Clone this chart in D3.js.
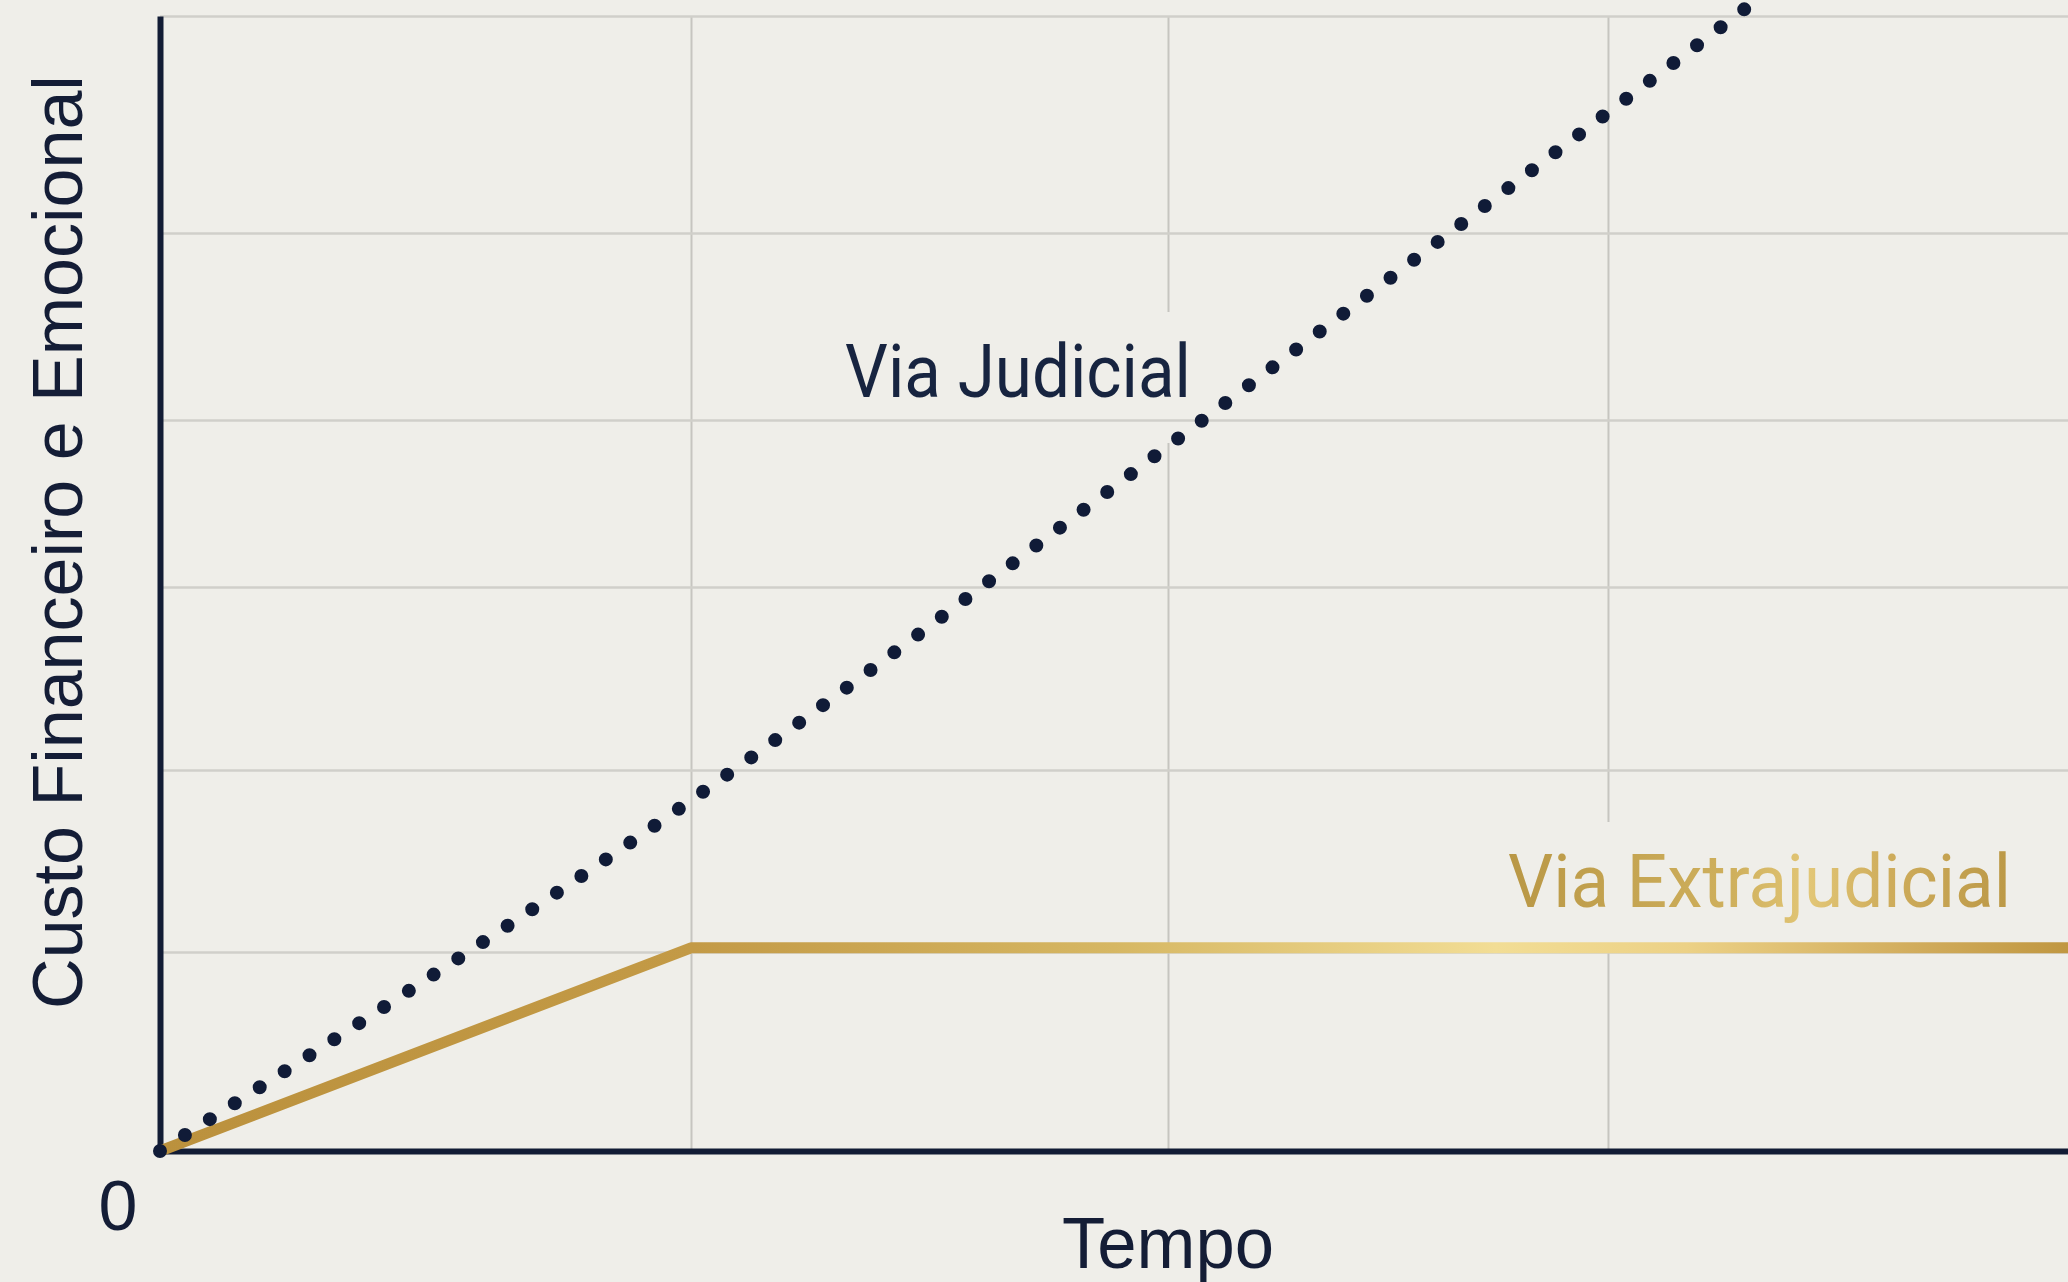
<!DOCTYPE html>
<html lang="pt">
<head>
<meta charset="utf-8">
<title>Custo: Via Judicial x Via Extrajudicial</title>
<script src="https://cdn.jsdelivr.net/npm/d3@7"></script>
<style>
  html, body { margin: 0; padding: 0; background: #efeee9; overflow: hidden; }
  #chart { display: block; }
</style>
</head>
<body>
<div id="chart"></div>
<script>
// Grid positions (time / cost in 0..100 units)
const xTicks = [27.83, 52.83, 75.89];
const yTicks = [17.53, 33.57, 49.69, 64.41, 80.88, 100];

// Via Judicial (dotted, keeps rising)
const judTime = [0, 27.83, 52.83, 75.89, 82.65, 87];
const judCost = [0, 30.9, 62.1, 91.5, 100.1, 105.7];

// Via Extrajudicial (gold, rises then flat)
const extTime = [0, 27.83, 100];
const extCost = [0, 17.9, 17.9];

// Labels
const xLabel = "Tempo";
const yLabel = "Custo Financeiro e Emocional";
const zeroLabel = "0";
const judLabel = "Via Judicial";
const extLabel = "Via Extrajudicial";

// Colours
const BG = "#efeee9";
const NAVY = "#121c35";
const GRID = "#d0cfca";

function drawChart() {
  const WIDTH = 2068;
  const HEIGHT = 1282;
  const LEFT = 160;
  const RIGHT = 2068;
  const TOP = 16;
  const BOTTOM = 1151;

  const svg = d3
    .select("#chart")
    .append("svg")
    .attr("width", WIDTH)
    .attr("height", HEIGHT);

  svg.append("rect").attr("width", WIDTH).attr("height", HEIGHT).attr("fill", BG);

  const x = d3.scaleLinear().domain([0, 100]).range([LEFT, RIGHT]);
  const y = d3.scaleLinear().domain([0, 100]).range([BOTTOM, TOP]);

  // gradients
  const defs = svg.append("defs");
  const lineGrad = defs
    .append("linearGradient")
    .attr("id", "goldLine")
    .attr("gradientUnits", "userSpaceOnUse")
    .attr("x1", x(0))
    .attr("x2", x(100))
    .attr("y1", 0)
    .attr("y2", 0);
  [
    [0, "#bb913d"],
    [0.28, "#c39a46"],
    [0.5, "#d6b763"],
    [0.7, "#f2dd95"],
    [0.8, "#ecd186"],
    [0.92, "#d1ac5c"],
    [1, "#c09741"],
  ].forEach(([o, c]) => lineGrad.append("stop").attr("offset", o).attr("stop-color", c));

  const textGrad = defs
    .append("linearGradient")
    .attr("id", "goldText")
    .attr("x1", 0)
    .attr("x2", 1)
    .attr("y1", 0)
    .attr("y2", 0);
  [
    [0, "#b99745"],
    [0.45, "#cfb05d"],
    [0.6, "#e2c676"],
    [0.75, "#cfad5c"],
    [1, "#bb9846"],
  ].forEach(([o, c]) => textGrad.append("stop").attr("offset", o).attr("stop-color", c));

  // vertical grid lines
  svg
    .append("g")
    .attr("class", "grid-x")
    .attr("transform", `translate(0, ${BOTTOM})`)
    .call(d3.axisBottom(x).tickValues(xTicks).tickSize(-(BOTTOM - TOP)).tickFormat(""))
    .call((g) => g.select(".domain").remove())
    .call((g) => g.selectAll("line").attr("stroke", "#c6c5c0").attr("stroke-width", 2));

  // label halos (they cut the vertical grid lines in the picture)
  const halos = svg.append("g");

  // horizontal grid lines
  svg
    .append("g")
    .attr("class", "grid-y")
    .attr("transform", `translate(${LEFT}, 0)`)
    .call(d3.axisLeft(y).tickValues(yTicks).tickSize(-(RIGHT - LEFT)).tickFormat(""))
    .call((g) => g.select(".domain").remove())
    .call((g) => g.selectAll("line").attr("stroke", GRID).attr("stroke-width", 2.5));

  // axes (domain lines only)
  svg
    .append("g")
    .attr("transform", `translate(0, ${BOTTOM})`)
    .call(d3.axisBottom(x).tickValues([]).tickSizeOuter(0))
    .select(".domain")
    .attr("stroke", NAVY)
    .attr("stroke-width", 6);

  svg
    .append("g")
    .attr("transform", `translate(${LEFT}, 0)`)
    .call(d3.axisLeft(y).tickValues([]).tickSizeOuter(0))
    .select(".domain")
    .attr("stroke", NAVY)
    .attr("stroke-width", 6);

  // gold line
  const extData = extTime.map((t, i) => ({ t, v: extCost[i] }));
  svg
    .append("path")
    .datum(extData)
    .attr("fill", "none")
    .attr("stroke", "url(#goldLine)")
    .attr("stroke-width", 11)
    .attr("stroke-linejoin", "round")
    .attr("d", d3.line().x((d) => x(d.t)).y((d) => y(d.v)));

  // dotted line
  const judData = judTime.map((t, i) => ({ t, v: judCost[i] }));
  svg
    .append("path")
    .datum(judData)
    .attr("fill", "none")
    .attr("stroke", "#101b37")
    .attr("stroke-width", 14)
    .attr("stroke-linecap", "round")
    .attr("stroke-dasharray", "0 29.6")
    .attr("d", d3.line().curve(d3.curveMonotoneX).x((d) => x(d.t)).y((d) => y(d.v)));

  // series labels
  const judText = svg
    .append("text")
    .attr("x", 845)
    .attr("y", 397)
    .attr("font-family", "Roboto, sans-serif")
    .attr("font-size", 74)
    .attr("textLength", 346)
    .attr("lengthAdjust", "spacingAndGlyphs")
    .attr("fill", "#172440")
    .text(judLabel);

  const extText = svg
    .append("text")
    .attr("x", 1508)
    .attr("y", 907)
    .attr("font-family", "Roboto, sans-serif")
    .attr("font-size", 74)
    .attr("textLength", 503)
    .attr("lengthAdjust", "spacingAndGlyphs")
    .attr("fill", "url(#goldText)")
    .text(extLabel);

  [judText, extText].forEach((t) => {
    const b = t.node().getBBox();
    halos
      .append("rect")
      .attr("x", b.x - 8)
      .attr("y", b.y - 16)
      .attr("width", b.width + 16)
      .attr("height", b.height + 44)
      .attr("fill", BG);
  });

  // axis labels
  svg
    .append("text")
    .attr("x", 1168)
    .attr("y", 1268)
    .attr("text-anchor", "middle")
    .attr("font-family", "Liberation Sans, Arial, sans-serif")
    .attr("font-size", 72)
    .attr("textLength", 212)
    .attr("lengthAdjust", "spacingAndGlyphs")
    .attr("fill", "#141d36")
    .text(xLabel);

  svg
    .append("text")
    .attr("transform", "translate(82, 542) rotate(-90)")
    .attr("text-anchor", "middle")
    .attr("font-family", "Liberation Sans, Arial, sans-serif")
    .attr("font-size", 70)
    .attr("fill", "#141d36")
    .text(yLabel);

  svg
    .append("text")
    .attr("x", 118)
    .attr("y", 1230)
    .attr("text-anchor", "middle")
    .attr("font-family", "Liberation Sans, Arial, sans-serif")
    .attr("font-size", 70)
    .attr("fill", "#141d36")
    .text(zeroLabel);
}

drawChart();
</script>
</body>
</html>
